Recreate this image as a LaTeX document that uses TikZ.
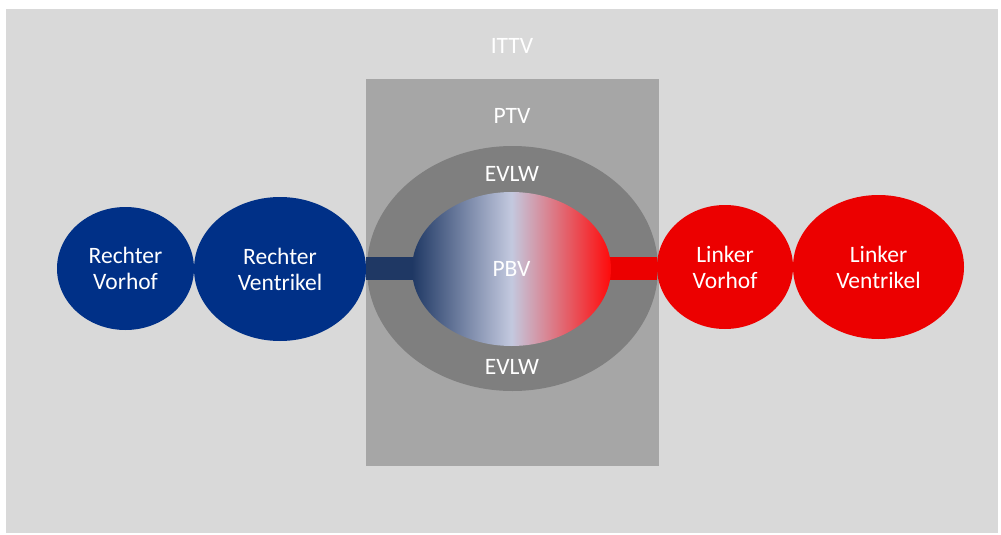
\documentclass[tikz,border=0pt]{standalone}
\usepackage{fontspec}
\setmainfont{Carlito}
\usetikzlibrary{shapes.geometric}
\definecolor{ittvgray}{HTML}{D9D9D9}
\definecolor{ptvgray}{HTML}{A6A6A6}
\definecolor{evlwgray}{HTML}{7F7F7F}
\definecolor{venblue}{HTML}{003087}
\definecolor{artred}{HTML}{EC0000}
\definecolor{barblue}{HTML}{1F3864}
\definecolor{midblue}{HTML}{C3C9DF}
\definecolor{pbvred}{HTML}{FF0A0A}
\tikzset{
  space/.style={rectangle,inner sep=0pt},
  chamber/.style={ellipse,inner sep=0pt,align=center,text=white},
  tag/.style={text=white,inner sep=0pt},
  vessel/.style={line width=23pt}
}

\begin{document}
\begin{tikzpicture}[x=1pt,y=-1pt,font=\fontsize{23.5}{26}\selectfont]

\useasboundingbox (0,0) rectangle (1001,535);

\node[space,fill=ittvgray,minimum width=992,minimum height=524] (ittv) at (502,271) {};
\node[space,fill=ptvgray,minimum width=293,minimum height=387] (ptv) at (512.5,272.5) {};
\node[chamber,fill=evlwgray,minimum width=291,minimum height=245] (evlw) at (512.5,268.5) {};

\node[chamber,fill=venblue,minimum width=137,minimum height=123] (rvh) at (125.5,268.5) {Rechter\\Vorhof};
\node[chamber,fill=venblue,minimum width=172,minimum height=144] (rvk) at (280,269) {Rechter\\Ventrikel};
\node[chamber,fill=artred,minimum width=136,minimum height=124] (lvh) at (725,267) {Linker\\Vorhof};
\node[chamber,fill=artred,minimum width=171,minimum height=144] (lvk) at (878.5,267) {Linker\\Ventrikel};

\draw[vessel,barblue] (rvk.east |- evlw.center) -- (evlw.center);
\draw[vessel,artred] (evlw.center) -- (evlw.center -| lvh.west);

\node[chamber,left color=barblue,right color=pbvred,middle color=midblue,
  minimum width=199,minimum height=154] (pbv) at (511.5,269) {PBV};

\node[tag] (ittvlbl) at (512,46) {ITTV};
\node[tag] (ptvlbl) at (512,115.5) {PTV};
\node[tag] (evlwtop) at (512,174) {EVLW};
\node[tag] (evlwbot) at (512,367) {EVLW};

\end{tikzpicture}
\end{document}
